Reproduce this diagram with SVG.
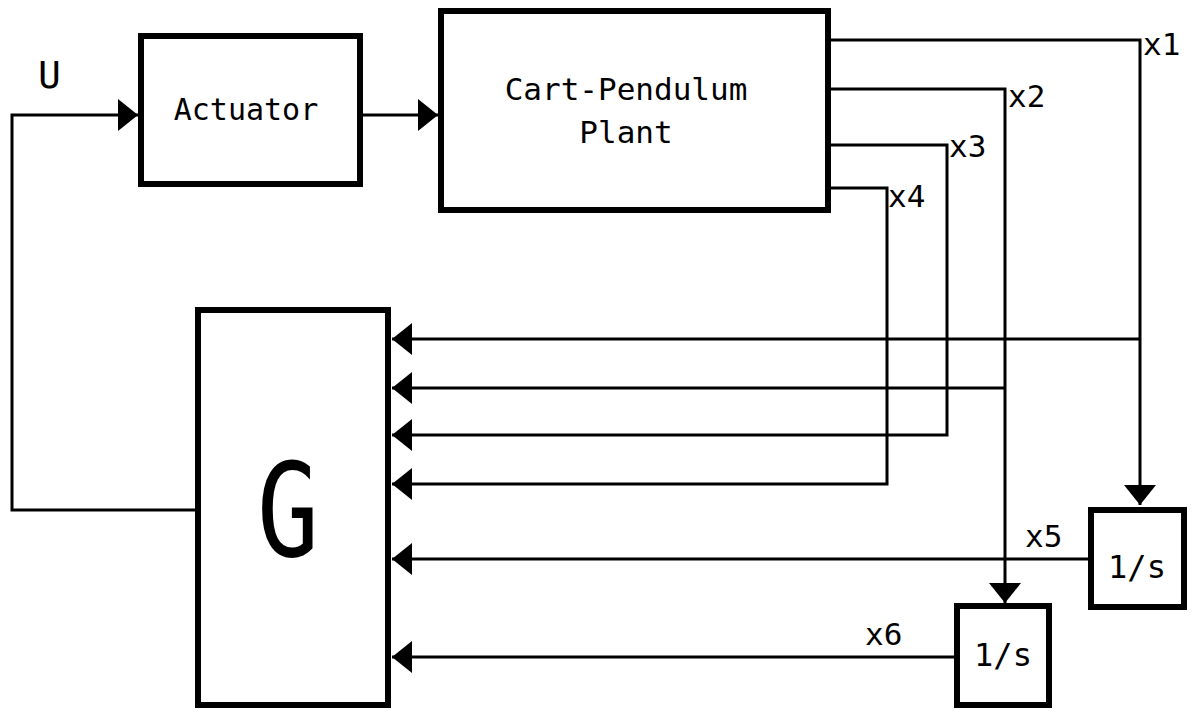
<svg xmlns="http://www.w3.org/2000/svg" width="1194" height="713" viewBox="0 0 1194 713">
<style>
.box{fill:#fff;stroke:#000;stroke-width:6}
.ln{fill:none;stroke:#000;stroke-width:3}
.t{font-family:"DejaVu Sans Mono","Liberation Mono",monospace;fill:#000}
.lbl{font-size:31px}
</style>
<defs>
<marker id="ah" markerUnits="userSpaceOnUse" markerWidth="20" markerHeight="32" refX="20" refY="16" orient="auto" viewBox="0 0 20 32">
<path d="M0,0 L20,16 L0,32 z" fill="#000"/>
</marker>
</defs>
<rect width="1194" height="713" fill="#fff"/>
<g id="connectors">
<path class="ln" d="M198,510 H12 V115 H138" marker-end="url(#ah)"/>
<path class="ln" d="M363,115 H438" marker-end="url(#ah)"/>
<path class="ln" d="M831,40 H1140 V505" marker-end="url(#ah)"/>
<path class="ln" d="M831,89 H1005 V603" marker-end="url(#ah)"/>
<path class="ln" d="M831,145 H947 V435 H392" marker-end="url(#ah)"/>
<path class="ln" d="M831,188 H887 V484 H392" marker-end="url(#ah)"/>
<path class="ln" d="M1140,339 H392" marker-end="url(#ah)"/>
<path class="ln" d="M1005,388 H392" marker-end="url(#ah)"/>
<path class="ln" d="M1088,559 H392" marker-end="url(#ah)"/>
<path class="ln" d="M954,657 H392" marker-end="url(#ah)"/>
<text class="t" x="38" y="88" font-size="38">U</text>
<text class="t lbl" x="1143" y="55">x1</text>
<text class="t lbl" x="1008" y="107">x2</text>
<text class="t lbl" x="949" y="157">x3</text>
<text class="t lbl" x="888" y="207">x4</text>
<text class="t lbl" x="1025" y="547">x5</text>
<text class="t lbl" x="865" y="645">x6</text>
</g>
<g id="actuator">
<rect class="box" x="141" y="36" width="219" height="148"/>
<text class="t" x="246" y="120" font-size="30" text-anchor="middle">Actuator</text>
</g>
<g id="plant">
<rect class="box" x="441" y="11" width="387" height="199"/>
<text class="t" x="626" y="100" font-size="31" text-anchor="middle">Cart-Pendulum</text>
<text class="t" x="626" y="143" font-size="31" text-anchor="middle">Plant</text>
</g>
<g id="G">
<rect class="box" x="198" y="310" width="190" height="395"/>
<text class="t" x="288" y="556" font-size="130" text-anchor="middle" textLength="62" lengthAdjust="spacingAndGlyphs">G</text>
</g>
<g id="int1">
<rect class="box" x="1091" y="510" width="93" height="97"/>
<text class="t" x="1137" y="578" font-size="32" text-anchor="middle">1/s</text>
</g>
<g id="int2">
<rect class="box" x="957" y="606" width="92" height="99"/>
<text class="t" x="1003" y="666" font-size="32" text-anchor="middle">1/s</text>
</g>
</svg>
